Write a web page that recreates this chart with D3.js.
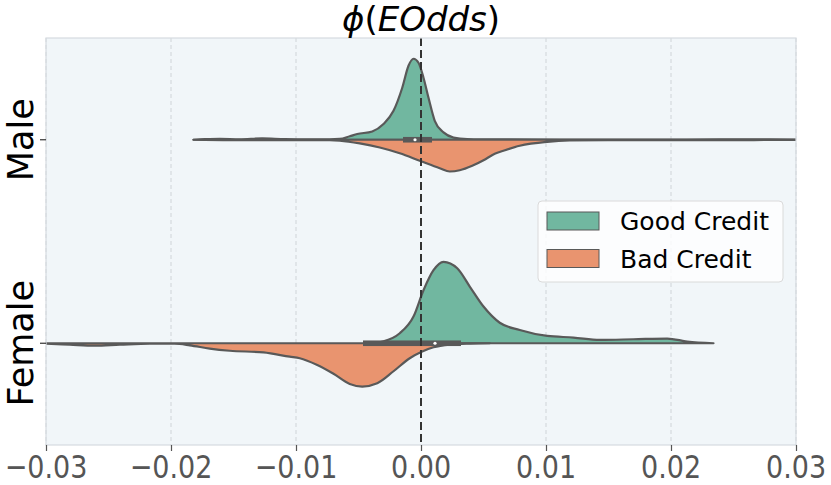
<!DOCTYPE html>
<html lang="en">
<head>
<meta charset="UTF-8">
<title>EOdds split violin</title>
<script src="https://cdn.jsdelivr.net/npm/d3@7"></script>
<style>
  body { margin: 0; background: #fff; }
  svg { display: block; font-family: "DejaVu Sans", sans-serif; }
</style>
</head>
<body>
<div id="chart"></div>
<script>
// categories and groups
const groups = ['Male', 'Female'];
const hues = ['Good Credit', 'Bad Credit'];
const xTicks = [-0.03, -0.02, -0.01, 0.00, 0.01, 0.02, 0.03];

// density curves: [value, relative density]
const maleGood = [
  [-0.0182, 0], [-0.0173, 0.007], [-0.0161, 0.012], [-0.0145, 0.006], [-0.0127, 0.018],
  [-0.0109, 0.007], [-0.0089, 0.004], [-0.0073, 0.004], [-0.0065, 0.010], [-0.0057, 0.043],
  [-0.0051, 0.070], [-0.0039, 0.102], [-0.0030, 0.193], [-0.0022, 0.356], [-0.0015, 0.639],
  [-0.0010, 0.909], [-0.0006, 0.995], [-0.0002, 0.946], [0.0002, 0.762], [0.0006, 0.516],
  [0.0011, 0.233], [0.0018, 0.090], [0.0026, 0.028], [0.0037, 0.009], [0.0063, 0.004],
  [0.0111, 0.002], [0.0183, 0.002], [0.0239, 0.004], [0.0279, 0.005], [0.0300, 0.002]
];
const maleBad = [
  [-0.0182, 0], [-0.0153, 0.005], [-0.0097, 0.004], [-0.0073, 0.006], [-0.0065, 0.012],
  [-0.0049, 0.045], [-0.0033, 0.095], [-0.0017, 0.166], [-0.0001, 0.258], [0.0015, 0.350],
  [0.0023, 0.390], [0.0031, 0.375], [0.0041, 0.320], [0.0050, 0.252], [0.0059, 0.172],
  [0.0066, 0.135], [0.0079, 0.074], [0.0101, 0.025], [0.0119, 0.009], [0.0159, 0.004],
  [0.0239, 0.004], [0.0300, 0.002]
];
const femaleGood = [
  [-0.0043, 0], [-0.0030, 0.025], [-0.0017, 0.123], [-0.0006, 0.328], [0.0002, 0.651],
  [0.0010, 0.897], [0.0018, 1.000], [0.0029, 0.921], [0.0039, 0.697], [0.0050, 0.451],
  [0.0063, 0.252], [0.0079, 0.163], [0.0101, 0.090], [0.0122, 0.070], [0.0143, 0.041],
  [0.0170, 0.049], [0.0197, 0.058], [0.0213, 0.021], [0.0234, 0]
];
const femaleBad = [
  [-0.0300, 0.006], [-0.0281, 0.018], [-0.0261, 0.030], [-0.0241, 0.018], [-0.0217, 0.006],
  [-0.0197, 0.006], [-0.0185, 0.025], [-0.0169, 0.065], [-0.0153, 0.092], [-0.0126, 0.113],
  [-0.0105, 0.165], [-0.0097, 0.184], [-0.0083, 0.267], [-0.0070, 0.375], [-0.0057, 0.500],
  [-0.0047, 0.532], [-0.0035, 0.491], [-0.0022, 0.344], [-0.0009, 0.184], [0.0001, 0.102],
  [0.0010, 0.049], [0.0023, 0.016], [0.0039, 0.004], [0.0055, 0]
];
// inner box stats per group: q1, median, q3
const boxStats = [
  [-0.00144, -0.00048, 0.00088],
  [-0.00464, 0.00112, 0.00320]
];

const curves = [[maleGood, maleBad], [femaleGood, femaleBad]];
const colors = ['#71b7a0', '#e9946f'];

const W = 831, H = 485;
const margin = { top: 38, right: 35, bottom: 40, left: 46 };

const svg = d3.select('#chart').append('svg')
  .attr('width', W).attr('height', H);

const x = d3.scaleLinear().domain([-0.03, 0.03]).range([margin.left, W - margin.right]);
const y = d3.scaleBand().domain(groups).range([margin.top, H - margin.bottom]);
const half = y.bandwidth() * 0.4;
const w = d3.scaleLinear().domain([0, 1]).range([0, half]);
const plotTop = margin.top, plotBot = H - margin.bottom;

// background
svg.append('rect')
  .attr('x', x(-0.03)).attr('y', plotTop)
  .attr('width', x(0.03) - x(-0.03)).attr('height', plotBot - plotTop)
  .attr('fill', '#f1f6f9');

// vertical grid
svg.append('g').selectAll('line')
  .data(xTicks.filter(t => t !== 0))
  .enter().append('line')
  .attr('x1', d => x(d)).attr('x2', d => x(d))
  .attr('y1', plotTop).attr('y2', plotBot)
  .attr('stroke', '#cfd4d8').attr('stroke-width', 1)
  .attr('stroke-dasharray', '4,3');

svg.append('clipPath').attr('id', 'clip')
  .append('rect')
  .attr('x', x(-0.03)).attr('y', plotTop)
  .attr('width', x(0.03) - x(-0.03)).attr('height', plotBot - plotTop);

const violins = svg.append('g').attr('clip-path', 'url(#clip)');

groups.forEach((g, gi) => {
  const cy = y(g) + y.bandwidth() / 2;
  curves[gi].forEach((pts, hi) => {
    const sign = hi === 0 ? -1 : 1;
    const area = d3.area()
      .x(d => x(d[0]))
      .y0(cy)
      .y1(d => cy + sign * w(d[1]))
      .curve(d3.curveMonotoneX);
    violins.append('path')
      .datum(pts)
      .attr('d', area)
      .attr('fill', colors[hi])
      .attr('stroke', '#595959')
      .attr('stroke-width', 2.2)
      .attr('stroke-linejoin', 'round');
  });
  const [q1, med, q3] = boxStats[gi];
  violins.append('rect')
    .attr('x', x(q1)).attr('y', cy - 2.8)
    .attr('width', x(q3) - x(q1)).attr('height', 5.6)
    .attr('fill', '#595959');
  violins.append('circle')
    .attr('cx', x(med)).attr('cy', cy).attr('r', 1.6)
    .attr('fill', '#fff');
});

// zero reference line
svg.append('line')
  .attr('x1', x(0)).attr('x2', x(0))
  .attr('y1', plotTop).attr('y2', plotBot)
  .attr('stroke', '#333').attr('stroke-width', 2)
  .attr('stroke-dasharray', '8,4');

// frame
svg.append('rect')
  .attr('x', x(-0.03)).attr('y', plotTop)
  .attr('width', x(0.03) - x(-0.03)).attr('height', plotBot - plotTop)
  .attr('fill', 'none').attr('stroke', '#d6dbdf').attr('stroke-width', 1.2);

// x axis: tick marks from d3, labels placed below (drawn a bit taller, as in the picture)
const xAxis = d3.axisBottom(x).tickValues(xTicks).tickSize(6).tickFormat('');
const gx = svg.append('g')
  .attr('transform', `translate(0, ${plotBot})`)
  .call(xAxis);
gx.select('.domain').remove();
gx.selectAll('.tick line').attr('stroke', '#555').attr('stroke-width', 1.2);

const fmt = d => d3.format('.2f')(d).replace('-', '\u2212');
svg.append('g').selectAll('text')
  .data(xTicks)
  .enter().append('text')
  .attr('transform', d => `translate(${x(d)}, ${plotBot + 33}) scale(1, 1.2)`)
  .attr('text-anchor', 'middle')
  .attr('fill', '#555')
  .style('font-size', '27px')
  .text(fmt);

// y axis
const yAxis = d3.axisLeft(y).tickSize(6).tickFormat('');
const gy = svg.append('g')
  .attr('transform', `translate(${x(-0.03)}, 0)`)
  .call(yAxis);
gy.select('.domain').remove();
gy.selectAll('.tick line').attr('stroke', '#333').attr('stroke-width', 1.2);

svg.append('g').selectAll('text')
  .data(groups)
  .enter().append('text')
  .attr('transform', d => `translate(33, ${y(d) + y.bandwidth() / 2}) rotate(-90)`)
  .attr('text-anchor', 'middle')
  .attr('fill', '#000')
  .style('font-size', '35px')
  .text(d => d);

// title φ(EOdds)
const title = svg.append('text')
  .attr('x', x(0)).attr('y', 31)
  .attr('text-anchor', 'middle')
  .style('font-size', '34px')
  .attr('fill', '#000');
title.append('tspan').style('font-style', 'italic').text('\u03d5');
title.append('tspan').text('(');
title.append('tspan').style('font-style', 'italic').text('EOdds');
title.append('tspan').text(')');

// legend
const legend = svg.append('g').attr('transform', 'translate(538, 201)');
legend.append('rect')
  .attr('width', 245).attr('height', 81).attr('rx', 4)
  .attr('fill', '#fff').attr('fill-opacity', 0.8)
  .attr('stroke', '#dadada').attr('stroke-width', 1);
hues.forEach((h, i) => {
  legend.append('rect')
    .attr('x', 9).attr('y', 11 + i * 37.5)
    .attr('width', 52).attr('height', 18)
    .attr('fill', colors[i]).attr('stroke', '#595959').attr('stroke-width', 1);
  legend.append('text')
    .attr('x', 82).attr('y', 29 + i * 37.5)
    .style('font-size', '25px').attr('fill', '#000')
    .text(h);
});
</script>
</body>
</html>
